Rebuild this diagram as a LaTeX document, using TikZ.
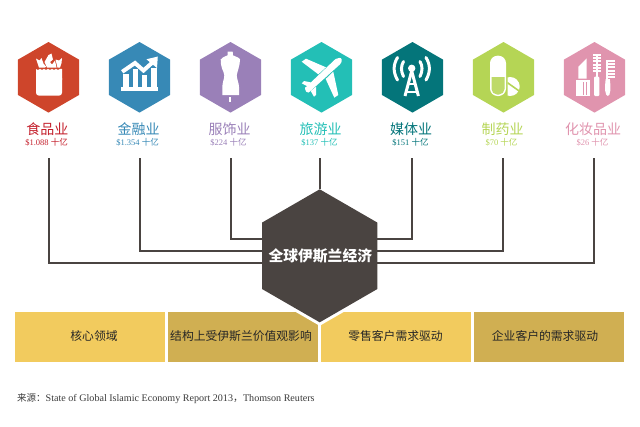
\documentclass[tikz,border=0pt]{standalone}
\usepackage{fontspec}
\setmainfont{Liberation Serif}
\newfontfamily\cjk{Noto Sans CJK SC}
\usetikzlibrary{shapes.geometric,calc,backgrounds}
\definecolor{cfood}{HTML}{CE452B}
\definecolor{tfood}{HTML}{C4202C}
\definecolor{cfin}{HTML}{3789B6}
\definecolor{ccloth}{HTML}{9A80B8}
\definecolor{ctravel}{HTML}{23BFB6}
\definecolor{cmedia}{HTML}{04757A}
\definecolor{cpharma}{HTML}{B5D555}
\definecolor{ccosm}{HTML}{E094AE}
\definecolor{hubc}{HTML}{4A4441}
\definecolor{boxa}{HTML}{F2CB5E}
\definecolor{boxb}{HTML}{D0AF52}
\definecolor{srcc}{HTML}{3A3A3A}
\tikzset{
  hexa/.style={regular polygon,regular polygon sides=6,shape border rotate=30,minimum size=70.6pt,inner sep=0pt,outer sep=0pt,fill=#1},
  title/.style={inner sep=0pt,text=#1,font=\cjk\fontsize{14}{16}\selectfont},
  sub/.style={inner sep=0pt,text=#1,font=\fontsize{8.5}{10}\selectfont},
  hubhex/.style={regular polygon,regular polygon sides=6,shape border rotate=30,minimum size=133pt,inner sep=0pt,outer sep=0pt,fill=hubc},
  band/.style={minimum width=150pt,minimum height=50pt,inner sep=0pt,outer sep=0pt,fill=#1},
  bandtext/.style={inner sep=0pt,font=\cjk\fontsize{#1}{13}\selectfont,text=black!85},
  link/.style={draw=hubc,line width=1.7pt},
  ic/.style={fill=white,draw=none}
}
\begin{document}
\begin{tikzpicture}[x=1pt,y=-1pt]
\useasboundingbox (0,0) rectangle (640,426);
% hexagons
\node[hexa=cfood]   (h1) at (48.5,77.3) {};
\node[hexa=cfin]    (h2) at (139.5,77.3) {};
\node[hexa=ccloth]  (h3) at (230.5,77.3) {};
\node[hexa=ctravel] (h4) at (321.5,77.3) {};
\node[hexa=cmedia]  (h5) at (412.5,77.3) {};
\node[hexa=cpharma] (h6) at (503.5,77.3) {};
\node[hexa=ccosm]   (h7) at (594.5,77.3) {};
% labels
\node[title=tfood]  (t1) at (47.5,129.5) {食品业};
\node[title=cfin]   (t2) at (138.5,129.5) {金融业};
\node[title=ccloth] (t3) at (229.5,129.5) {服饰业};
\node[title=ctravel](t4) at (320.5,129.5) {旅游业};
\node[title=cmedia] (t5) at (411,129.5) {媒体业};
\node[title=cpharma](t6) at (502.5,129.5) {制药业};
\node[title=ccosm]  (t7) at (593,129.5) {化妆品业};
\node[sub=tfood]  (s1) at (46.5,142.7) {\$1.088 {\cjk 十亿}};
\node[sub=cfin]   (s2) at (137.5,142.7) {\$1.354 {\cjk 十亿}};
\node[sub=ccloth] (s3) at (228.5,142.7) {\$224 {\cjk 十亿}};
\node[sub=ctravel](s4) at (319.5,142.7) {\$137 {\cjk 十亿}};
\node[sub=cmedia] (s5) at (410.5,142.7) {\$151 {\cjk 十亿}};
\node[sub=cpharma](s6) at (501.5,142.7) {\$70 {\cjk 十亿}};
\node[sub=ccosm]  (s7) at (592.5,142.7) {\$26 {\cjk 十亿}};
% connector ends
\coordinate (c1) at (49,158);
\coordinate (c2) at (140,158);
\coordinate (c3) at (231,158);
\coordinate (c4) at (319.7,158);
\coordinate (c5) at (412,158);
\coordinate (c6) at (503,158);
\coordinate (c7) at (594,158);
% hub
\node[hubhex] (hub) at (319.7,255.8) {};
\node[inner sep=0pt,text=white,font=\cjk\bfseries\fontsize{14.8}{16}\selectfont] (hubt) at (320.3,256) {全球伊斯兰经济};
% bands
\begin{scope}[on background layer]
\node[band=boxa] (b1) at (90,337) {};
\node[band=boxb] (b2) at (243,337) {};
\node[band=boxa] (b3) at (396,337) {};
\node[band=boxb] (b4) at (549,337) {};
\node[regular polygon,regular polygon sides=6,shape border rotate=30,minimum size=140pt,inner sep=0pt,fill=white] (halo) at (319.7,255.8) {};
\draw[link] (c1) |- ($(hub)+(0,6.9)$);
\draw[link] (c2) |- ($(hub)+(0,-5)$);
\draw[link] (c3) |- ($(hub)+(0,-16.8)$);
\draw[link] (c4) -- (hub);
\draw[link] (c5) |- ($(hub)+(0,-16.8)$);
\draw[link] (c6) |- ($(hub)+(0,-5)$);
\draw[link] (c7) |- ($(hub)+(0,6.9)$);
\end{scope}
\node[bandtext=11.8] (bt1) at (94,335.7) {核心领域};
\node[bandtext=11.8] (bt2) at (241,335.7) {结构上受伊斯兰价值观影响};
\node[bandtext=11.8] (bt3) at (395.5,335.7) {零售客户需求驱动};
\node[bandtext=11.8] (bt4) at (545,335.7) {企业客户的需求驱动};
% source
\node[anchor=west,inner sep=0pt,text=srcc,font=\fontsize{10.1}{11}\selectfont] (src) at (17,398.5) {{\cjk\fontsize{9.5}{11}\selectfont 来源：}State of Global Islamic Economy Report 2013{\cjk\fontsize{10}{11}\selectfont ，}Thomson Reuters};
% --- food icon
\fill[ic,rounded corners=3pt] (36,75) -- (36,95.7) -- (62,95.7) -- (62,75) -- cycle;
\fill[ic] (36,80) -- (36,69) -- (38,70) -- (40,68.8) -- (42,70) -- (44,68.8) -- (46,70) -- (48,68.8) -- (50,70) -- (52,68.8) -- (54,70) -- (56,68.8) -- (58,70) -- (60,68.8) -- (62,69) -- (62,80) -- cycle;
\fill[ic] (36,58.5) -- (39.5,60.5) -- (41.5,58) -- (43.5,63.5) -- (46,66.5) -- (45,67.5) -- (39,67.5) -- cycle;
\fill[ic] (47,67.5) -- (44.5,62) -- (48.5,55) -- (51.5,53.5) -- (53,59.5) -- (50,62) -- (52,64.5) -- (55,60.5) -- (56.5,67.5) -- cycle;
\fill[ic] (55.5,59.5) -- (59,60.5) -- (62,58) -- (61.5,63) -- (60,67.5) -- (57.5,67.5) -- cycle;
% --- finance icon
\fill[ic] (121,86.7) -- (157.5,86.7) -- (157.5,90.7) -- (121,90.7) -- cycle;
\fill[ic] (123.3,74) rectangle (129.3,86.7);
\fill[ic] (132.7,68.5) rectangle (138.3,86.7);
\fill[ic] (141.7,74.5) rectangle (147.3,86.7);
\fill[ic] (150.7,68) rectangle (156.7,86.7);
\draw[white,line width=4pt,line join=miter] (122.2,71.8) -- (135,63) -- (143.5,70.5) -- (153.5,61.5);
\fill[ic] (146.5,59.3) -- (157.8,56.5) -- (157,68) -- cycle;
% --- dress form
\fill[ic] (227.7,51.7) -- (232.7,51.7) -- (233,55.3) .. controls (236,57) and (239.5,57.5) .. (240,59.5) .. controls (240.5,63) and (238.7,66) .. (238.5,68.5) .. controls (238,71) and (236.7,72) .. (236.7,75) .. controls (236.7,79) and (239,83) .. (239,87) -- (239,95) -- (222.3,95) -- (222.3,87) .. controls (222.3,83) and (224.3,79) .. (224.3,75) .. controls (224.3,72) and (222.5,71) .. (222,68.5) .. controls (221.5,66) and (220.3,63) .. (220.7,59.5) .. controls (221.2,57.5) and (224.5,57) .. (227.5,55.3) -- cycle;
\fill[ic] (229.3,96.7) rectangle (231.3,101.7);
% --- plane
\fill[ic,rounded corners=0.8pt] (305,88) -- (335,59.5) .. controls (337.5,57.5) and (341.5,57.5) .. (341.5,60) .. controls (341.8,61.5) and (341.2,63) .. (339.5,64.8) -- (309,92.3) .. controls (307,93) and (305,91) .. (305,88) -- cycle;
\fill[ic] (301.7,61.7) -- (306,58.7) -- (326,67.3) -- (318.3,74.3) -- cycle;
\fill[ic] (325.7,79) -- (333.3,71.7) -- (338.3,95) -- (334.3,97.7) -- cycle;
\fill[ic] (301.7,83.3) -- (304,81) -- (315,83.3) -- (309.3,87.3) -- cycle;
\fill[ic] (310.7,91) -- (316,86.7) -- (316,95) -- (314,96.7) -- cycle;
% --- media icon
\fill[ic] (411.7,68.3) circle (3.7pt);
\draw[white,line width=3pt] (411.7,71) -- (405,96);
\draw[white,line width=3pt] (411.7,71) -- (418.4,96);
\draw[white,line width=2.6pt] (407,84) -- (416.4,84);
\draw[white,line width=2.6pt] (405.5,92) -- (418,92);
\draw[white,line width=3pt,line cap=round] (403.5,76.5) .. controls (400.8,71) and (400.8,66) .. (403.5,61.5);
\draw[white,line width=3pt,line cap=round] (420,76.5) .. controls (422.7,71) and (422.7,66) .. (420,61.5);
\draw[white,line width=3pt,line cap=round] (397.5,80) .. controls (393,72) and (393,65) .. (397.5,57.5);
\draw[white,line width=3pt,line cap=round] (426,80) .. controls (430.5,72) and (430.5,65) .. (426,57.5);
% --- pharma icon
\fill[ic,rounded corners=7.5pt] (490,55.7) rectangle (506,96);
\fill[cpharma!88!white,rounded corners=5.5pt] (491.5,66) rectangle (504.5,94.5);
\fill[ic] (491,60) rectangle (505,76.5);
\begin{scope}
\clip (507.6,70) rectangle (525,100);
\fill[ic] (510.2,86.5) circle (9.5pt);
\draw[cpharma,line width=1.6pt] (505,81) -- (522,93);
\end{scope}
% --- cosmetics icon
\fill[ic] (576,80) rectangle (590,96);
\fill[ccosm] (582.7,82) rectangle (583.8,95);
\fill[ccosm] (585.8,82) rectangle (586.9,95);
\fill[ic] (578.3,66.7) -- (586.7,58.3) -- (586.7,78.5) -- (578.3,78.5) -- cycle;
\fill[ic] (595.7,54) rectangle (598.1,78);
\foreach \yy in {54,57.2,60.4,63.6,66.8,70}{\fill[ic] (593.3,\yy) rectangle (600.7,\yy+1.9);}
\fill[ic,rounded corners=1pt] (594,76.7) rectangle (599.3,96);
\fill[ic] (605.5,59.5) rectangle (607.8,80);
\fill[ic] (605.7,79) .. controls (604.5,88) and (605,96) .. (607.8,96) .. controls (610.5,96) and (611,88) .. (609.8,79) -- cycle;
\foreach \yy in {60,63.2,66.4,69.6,72.8,76}{\fill[ic] (605.5,\yy) rectangle (615,\yy+1.9);}
\end{tikzpicture}
\end{document}
